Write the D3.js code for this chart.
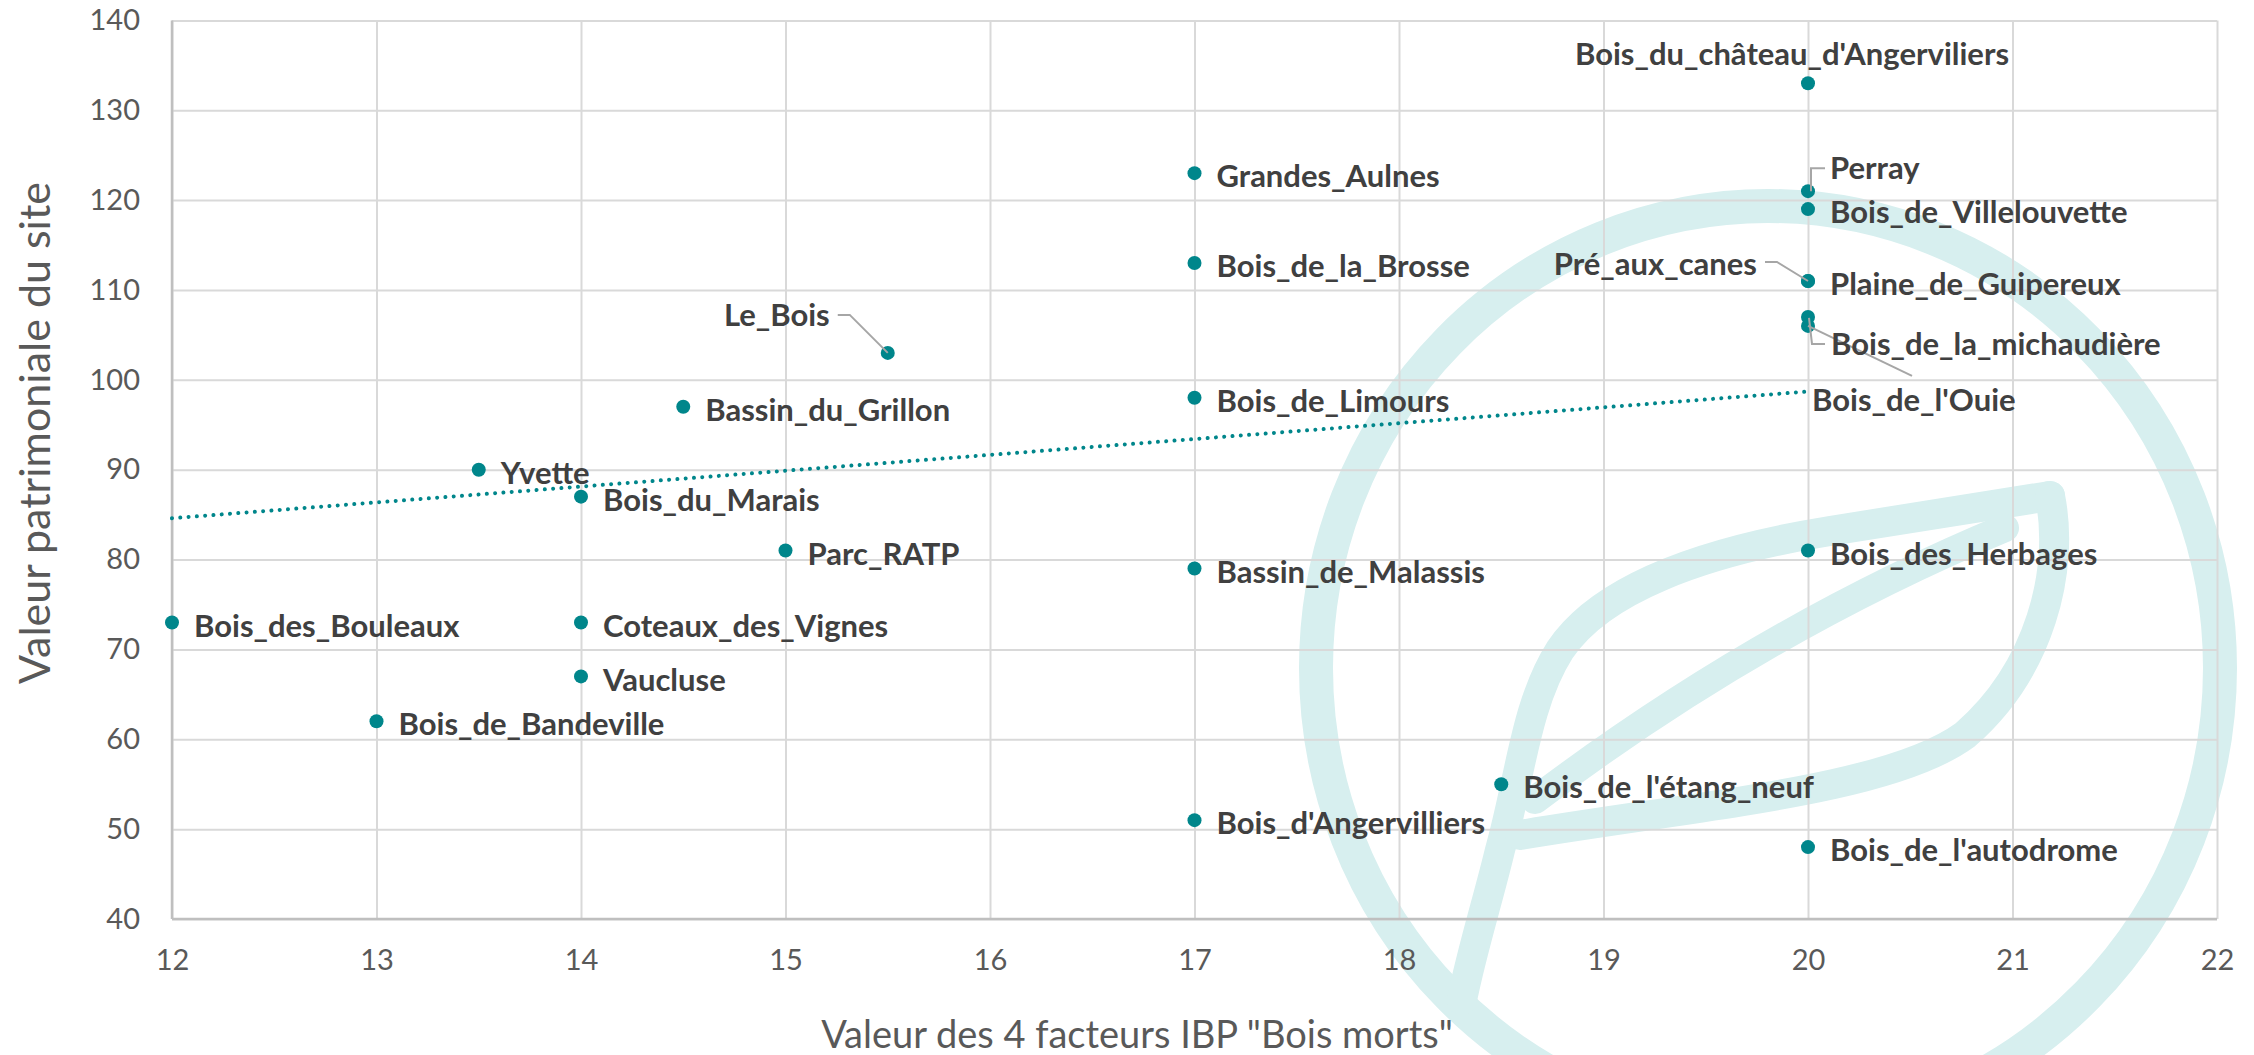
<!DOCTYPE html>
<html>
<head>
<meta charset="utf-8">
<script src="https://cdnjs.cloudflare.com/ajax/libs/d3/7.8.5/d3.min.js"></script>
<style>
  html, body { margin: 0; padding: 0; background: #fff; }
  svg { display: block; }
</style>
</head>
<body>
<div id="chart"></div>
<script>
// data
const sites = ["Bois_du_château_d'Angerviliers", "Perray", "Bois_de_Villelouvette", "Pré_aux_canes",
  "Plaine_de_Guipereux", "Bois_de_la_michaudière", "Bois_de_l'Ouie", "Grandes_Aulnes", "Bois_de_la_Brosse",
  "Bois_de_Limours", "Bassin_de_Malassis", "Bois_d'Angervilliers", "Bois_de_l'étang_neuf", "Bois_de_l'autodrome",
  "Bois_des_Herbages", "Le_Bois", "Bassin_du_Grillon", "Yvette", "Bois_du_Marais", "Parc_RATP",
  "Bois_des_Bouleaux", "Coteaux_des_Vignes", "Vaucluse", "Bois_de_Bandeville"];
const boisMorts = [20, 20, 20, 20, 20, 20, 20, 17, 17, 17, 17, 17, 18.5, 20, 20, 15.5, 14.5, 13.5, 14, 15, 12, 14, 14, 13];
const valeurPatrimoniale = [133, 121, 119, 111, 111, 107, 106, 123, 113, 98, 79, 51, 55, 48, 81, 103, 97, 90, 87, 81, 73, 73, 67, 62];
const xTicks = [12, 13, 14, 15, 16, 17, 18, 19, 20, 21, 22];
const yTicks = [40, 50, 60, 70, 80, 90, 100, 110, 120, 130, 140];
const trendX = [12, 20];
const trendY = [84.6, 98.7];

const W = 2254, H = 1055;
const teal = "#00868b";
const font = "Lato, 'Noto Sans', sans-serif";

// labels moved by hand in the original (offsets in px from the point)
const placement = {
  "Bois_du_château_d'Angerviliers": { anchor: "middle", dx: -16, dy: -29 },
  "Perray": { dx: 22, dy: -23, leader: [[3, 0], [3, -23], [17, -23]] },
  "Pré_aux_canes": { anchor: "end", dx: -51, dy: -17, leader: [[-43, -19], [-31, -19], [0, 0]] },
  "Bois_de_la_michaudière": { dx: 23, dy: 27, leader: [[1, 1], [4, 27], [17, 27]] },
  "Bois_de_l'Ouie": { dx: 4, dy: 74, leader: [[0, 0], [104, 50]] },
  "Le_Bois": { anchor: "end", dx: -58, dy: -38, leader: [[-50, -38], [-38, -38], [0, 0]] }
};
const defaultPlacement = { anchor: "start", dx: 22, dy: 3 };

const data = sites.map((s, i) => ({ name: s, x: boisMorts[i], y: valeurPatrimoniale[i] }));

const svg = d3.select("#chart").append("svg")
  .attr("width", W).attr("height", H);
svg.append("rect").attr("width", W).attr("height", H).attr("fill", "#fff");

const x = d3.scaleLinear().domain([12, 22]).range([172, 2217]);
const y = d3.scaleLinear().domain([40, 140]).range([919, 20.4]);

// background logo (watermark)
const wm = svg.append("g").attr("fill", "none").attr("stroke", "#d7efef").attr("stroke-linecap", "round");
wm.append("ellipse").attr("cx", 1768).attr("cy", 668).attr("rx", 452).attr("ry", 462).attr("stroke-width", 34);
wm.append("path").attr("stroke-width", 30)
  .attr("d", "M2050,496 L1830,531 C1700,552 1600,590 1560,650 C1525,705 1520,780 1500,850 C1488,900 1472,950 1462,1000");
wm.append("path").attr("stroke-width", 30)
  .attr("d", "M2050,496 C2065,570 2040,670 1965,735 C1890,790 1700,805 1520,835");
wm.append("path").attr("stroke-width", 28)
  .attr("d", "M2005,528 Q1760,630 1535,800");

// grid
svg.append("g")
  .attr("transform", `translate(0,${y(40)})`)
  .call(d3.axisBottom(x).tickValues(xTicks).tickSize(-(y(40) - y(140))).tickFormat(""))
  .call(g => g.select(".domain").remove())
  .call(g => g.selectAll("line").attr("stroke", "#d9d9d9").attr("stroke-width", 2));
svg.append("g")
  .attr("transform", `translate(${x(12)},0)`)
  .call(d3.axisLeft(y).tickValues(yTicks).tickSize(-(x(22) - x(12))).tickFormat(""))
  .call(g => g.select(".domain").remove())
  .call(g => g.selectAll("line").attr("stroke", "#d9d9d9").attr("stroke-width", 2));

// axis lines
svg.append("line").attr("x1", x(12)).attr("x2", x(22)).attr("y1", y(40)).attr("y2", y(40))
  .attr("stroke", "#bfbfbf").attr("stroke-width", 2.5);
svg.append("line").attr("x1", x(12)).attr("x2", x(12)).attr("y1", y(40)).attr("y2", y(140))
  .attr("stroke", "#bfbfbf").attr("stroke-width", 2.5);

// tick labels
svg.append("g")
  .attr("transform", `translate(0,${y(40)})`)
  .call(d3.axisBottom(x).tickValues(xTicks).tickSize(0).tickPadding(30))
  .call(g => g.select(".domain").remove())
  .call(g => g.selectAll("text").attr("font-family", font).attr("font-size", 29).attr("fill", "#595959"));
svg.append("g")
  .attr("transform", `translate(${x(12)},0)`)
  .call(d3.axisLeft(y).tickValues(yTicks).tickSize(0).tickPadding(32))
  .call(g => g.select(".domain").remove())
  .call(g => g.selectAll("text").attr("font-family", font).attr("font-size", 29).attr("fill", "#595959"));

// axis titles
svg.append("text")
  .attr("x", 1137).attr("y", 1048)
  .attr("text-anchor", "middle")
  .attr("font-family", font).attr("font-size", 38).attr("fill", "#595959")
  .text('Valeur des 4 facteurs IBP "Bois morts"');
svg.append("text")
  .attr("transform", "translate(50,433) rotate(-90)")
  .attr("text-anchor", "middle")
  .attr("font-family", font).attr("font-size", 43).attr("fill", "#595959")
  .text("Valeur patrimoniale du site");

// trendline
svg.append("line")
  .attr("x1", x(trendX[0])).attr("y1", y(trendY[0]))
  .attr("x2", x(trendX[1])).attr("y2", y(trendY[1]))
  .attr("stroke", teal).attr("stroke-width", 4)
  .attr("stroke-dasharray", "0.01 8.3").attr("stroke-linecap", "round");

// points
svg.append("g").selectAll("circle")
  .data(data)
  .enter()
  .append("circle")
  .attr("cx", d => x(d.x))
  .attr("cy", d => y(d.y))
  .attr("r", 7)
  .attr("fill", teal);

// leader lines
const line = d3.line();
svg.append("g").selectAll("path")
  .data(data.filter(d => placement[d.name] && placement[d.name].leader))
  .enter()
  .append("path")
  .attr("d", d => line(placement[d.name].leader.map(p => [x(d.x) + p[0], y(d.y) + p[1]])))
  .attr("fill", "none")
  .attr("stroke", "#a6a6a6")
  .attr("stroke-width", 2);

// labels
svg.append("g").selectAll("text")
  .data(data)
  .enter()
  .append("text")
  .attr("x", d => x(d.x) + (placement[d.name] || defaultPlacement).dx)
  .attr("y", d => y(d.y) + (placement[d.name] || defaultPlacement).dy)
  .attr("dy", "0.36em")
  .attr("text-anchor", d => (placement[d.name] || defaultPlacement).anchor || "start")
  .attr("font-family", font)
  .attr("font-weight", "bold")
  .attr("font-size", 31)
  .attr("fill", "#404040")
  .text(d => d.name);
</script>
</body>
</html>
